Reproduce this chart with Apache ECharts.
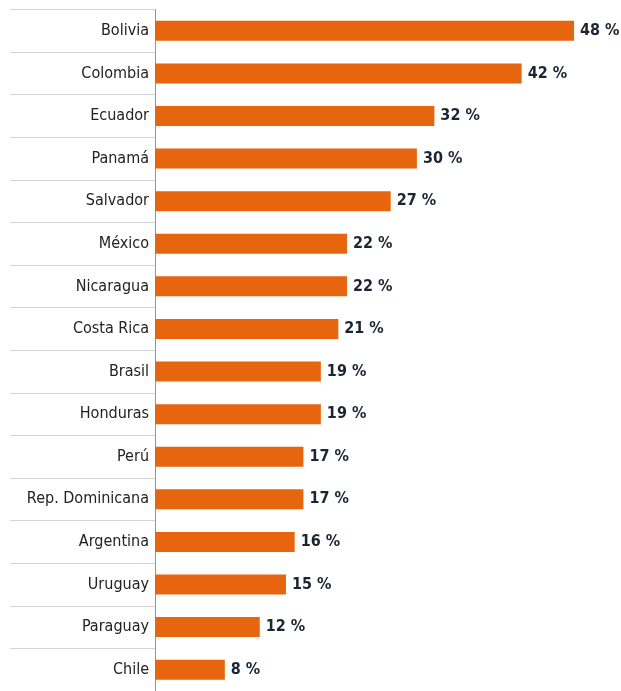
<!DOCTYPE html>
<html>
<head>
<meta charset="utf-8">
<style>
  html, body { margin: 0; padding: 0; background: #fff; }
  #chart { width: 621px; height: 691px; }
</style>
<script src="https://cdn.jsdelivr.net/npm/echarts@6/dist/echarts.min.js"></script>
</head>
<body>
<div id="chart"></div>
<script>
var paises = ['Bolivia', 'Colombia', 'Ecuador', 'Panamá', 'Salvador', 'México', 'Nicaragua', 'Costa Rica',
  'Brasil', 'Honduras', 'Perú', 'Rep. Dominicana', 'Argentina', 'Uruguay', 'Paraguay', 'Chile'];
var valores = [48, 42, 32, 30, 27, 22, 22, 21, 19, 19, 17, 17, 16, 15, 12, 8];

var fuente = '"Liberation Sans Narrow", "DejaVu Sans Condensed", Roboto, sans-serif';

var chart = echarts.init(document.getElementById('chart'));
var option = {
  animation: false,
  grid: { left: 155, top: 9.5, width: 436.5, height: 688 },
  xAxis: {
    type: 'value',
    min: 0,
    max: 50,
    show: false
  },
  yAxis: {
    type: 'category',
    inverse: true,
    data: paises,
    axisLine: { show: true, lineStyle: { color: '#8a96a3', width: 1 } },
    axisTick: { show: true, length: 145, lineStyle: { color: '#d4d4d4', width: 1 } },
    axisLabel: {
      margin: 6,
      color: '#222',
      fontSize: 16,
      fontFamily: fuente
    },
    splitLine: { show: false }
  },
  series: [{
    type: 'bar',
    data: valores,
    barWidth: 20,
    itemStyle: { color: '#e8650f' },
    label: {
      show: true,
      position: 'right',
      distance: 6,
      formatter: '{c} %',
      color: '#1c2633',
      fontSize: 16,
      fontWeight: 'bold',
      fontFamily: fuente
    }
  }]
};
chart.setOption(option);
</script>
</body>
</html>
